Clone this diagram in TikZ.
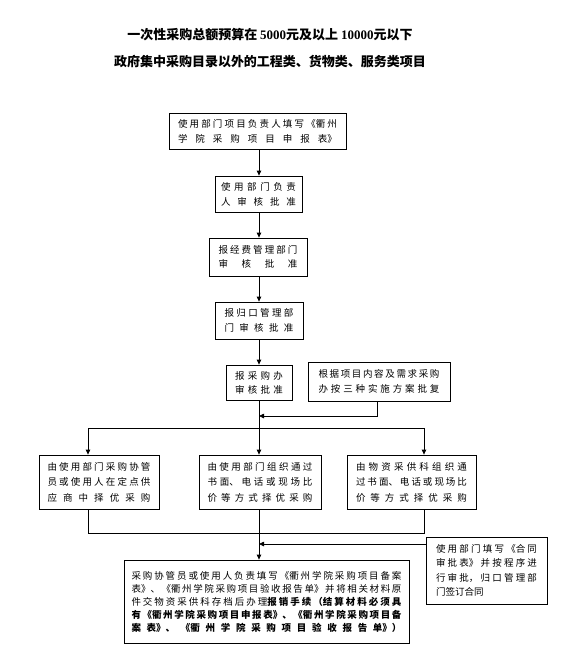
\documentclass[tikz,border=0pt]{standalone}
\usepackage{fontspec}
\setmainfont{Noto Sans CJK SC}
\newfontfamily\latn{Liberation Serif}
\usetikzlibrary{arrows.meta}
\XeTeXlinebreaklocale "zh"
\XeTeXlinebreakskip=0pt
% spread one line of characters over the whole text width
\newcommand{\fitline}[1]{{\XeTeXlinebreakskip=0pt plus 1fil\leftskip=0pt\rightskip=0pt\parfillskip=0pt\parskip=0pt\noindent#1\par}}

\begin{document}
\begin{tikzpicture}[x=1pt,y=-1pt,>={Triangle[length=5pt,width=4.5pt]},
bx/.style n args={3}{draw,line width=.8pt,inner sep=0pt,minimum width=#1,minimum height=#2,text width=#3,align=left,font=\fontsize{9.5}{15}\selectfont},
ln/.style={line width=.8pt},
ttl/.style={font=\fontsize{13}{15}\selectfont\bfseries}]
\useasboundingbox (0,0) rectangle (582,665);
\node[ttl] (t1) at (270,35) {一次性采购总额预算在 {\latn\bfseries 5000}元及以上 {\latn\bfseries 10000}元以下};
\node[ttl] (t2) at (270,62) {政府集中采购目录以外的工程类、货物类、服务类项目};
\node[bx={177pt}{36pt}{159pt}] (b1) at (257.5,131) {\fitline{使用部门项目负责人填写《衢州}\fitline{学院采购项目申报表》}};
\node[bx={87pt}{36pt}{75pt}] (b2) at (258.5,194) {\fitline{使用部门负责}\fitline{人审核批准}};
\node[bx={98pt}{38pt}{79pt},font=\fontsize{9.5}{14.5}\selectfont] (b3) at (258,257) {\fitline{报经费管理部门}\fitline{审核批准}};
\node[bx={88pt}{37pt}{69pt}] (b4) at (259,320.5) {\fitline{报归口管理部}\fitline{门审核批准}};
\node[bx={66pt}{35pt}{48pt},font=\fontsize{9.5}{14}\selectfont] (b5) at (259,382.5) {\fitline{报采购办}\fitline{审核批准}};
\node[bx={142pt}{39pt}{121pt}] (b6) at (379,381.5) {\fitline{根据项目内容及需求采购}\fitline{办按三种实施方案批复}};
\node[bx={120pt}{54pt}{103pt},font=\fontsize{9.5}{15.5}\selectfont] (b7) at (99,482) {\fitline{由使用部门采购协管}\fitline{员或使用人在定点供}\fitline{应商中择优采购}};
\node[bx={122pt}{54pt}{105pt},font=\fontsize{9.5}{15.5}\selectfont] (b8) at (260,482) {\fitline{由使用部门组织通过}\fitline{书面、电话或现场比}\fitline{价等方式择优采购}};
\node[bx={129pt}{54pt}{111pt},font=\fontsize{9.5}{15.5}\selectfont] (b9) at (411.5,482) {\fitline{由物资采供科组织通}\fitline{过书面、电话或现场比}\fitline{价等方式择优采购}};
\node[bx={285pt}{83pt}{270pt},font=\fontsize{9.5}{13}\selectfont] (b10) at (266.5,601.5) {\fitline{采购协管员或使用人负责填写《衢州学院采购项目备案}\fitline{表》、《衢州学院采购项目验收报告单》并将相关材料原}\fitline{件交物资采供科存档后办理{\bfseries 报销手续（结算材料必须具}}\fitline{\bfseries 有《衢州学院采购项目申报表》、《衢州学院采购项目备}\fitline{\bfseries 案表》、《衢州学院采购项目验收报告单》）}};
\node[bx={121pt}{67pt}{101pt},font=\fontsize{9.5}{14.5}\selectfont] (b11) at (486.5,570.5) {\fitline{使用部门填写《合同}\fitline{审批表》并按程序进}\fitline{行审批，归口管理部}门签订合同};
% spine and junctions
\coordinate (sp) at (259,0); \coordinate (k6) at (377,0);
\coordinate (j1) at (259,416); \coordinate (j2) at (259,428);
\coordinate (l1) at (88,428); \coordinate (r1) at (424,428);
\coordinate (l2) at (88,533); \coordinate (r2) at (424,533);
\coordinate (j3) at (259,533); \coordinate (j4) at (259,544);
\foreach \a/\b in {b1/b2,b2/b3,b3/b4,b4/b5}{\draw[ln,->] (\a.south -| sp) -- (\b.north -| sp);}
\draw[ln] (b5.south -| sp) -- (j2); \draw[ln,->] (b6.south -| k6) |- (j1);
\draw[ln] (l1) -- (r1);
\draw[ln,->] (l1) -- (l1 |- b7.north); \draw[ln,->] (j2) -- (b8.north -| sp); \draw[ln,->] (r1) -- (r1 |- b9.north);
\draw[ln] (l2 |- b7.south) -- (l2) -- (r2) -- (r2 |- b9.south); \draw[ln] (b8.south -| sp) -- (j3);
\draw[ln,->] (j3) -- (b10.north -| sp);
\draw[ln,->] (b11.west |- j4) -- (j4);
\end{tikzpicture}
\end{document}
